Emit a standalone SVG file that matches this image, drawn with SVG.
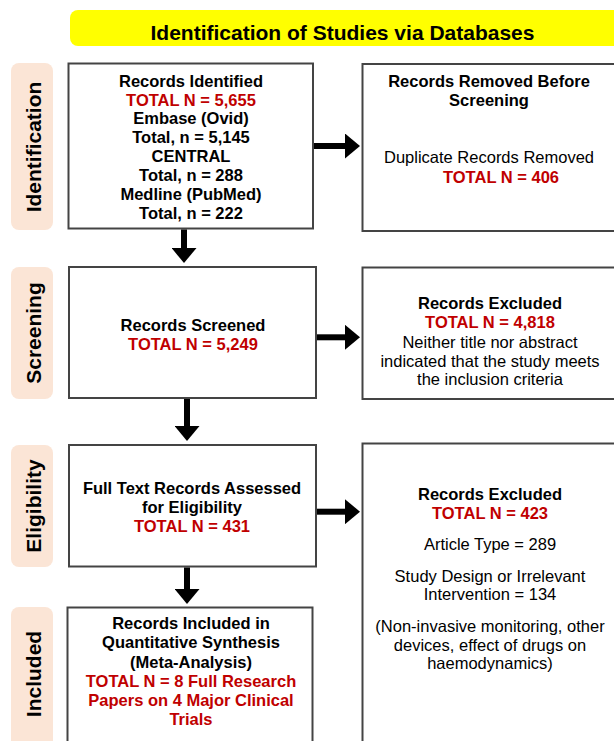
<svg xmlns="http://www.w3.org/2000/svg" width="614" height="741" viewBox="0 0 614 741">
<defs>
<style>
.box{fill:#fff;stroke:#444;stroke-width:2}
.lab{fill:#FBE5D6}
.t{font-family:"Liberation Sans",Arial,sans-serif;font-size:16.5px;text-anchor:middle;fill:#000}
.b{font-weight:bold}
.r{fill:#C00000;font-weight:bold}
.lt{font-family:"Liberation Sans",Arial,sans-serif;font-size:21px;font-weight:bold;text-anchor:middle;fill:#000}
.conn{stroke:#000;stroke-width:6;fill:none;marker-end:url(#ah)}
</style>
<marker id="ah" markerUnits="userSpaceOnUse" markerWidth="15" markerHeight="25" refX="0" refY="12.5" orient="auto" viewBox="0 0 15 25">
<path d="M0,0 L15,12.5 L0,25 z" fill="#000"/>
</marker>
</defs>
<rect width="614" height="741" fill="#fff"/>

<g id="banner">
<rect x="70" y="10" width="560" height="36" rx="8" fill="#FFFF00"/>
<text class="lt" x="342.5" y="39.5">Identification of Studies via Databases</text>
</g>

<g id="label-identification">
<rect class="lab" x="11" y="63" width="42" height="167" rx="8"/>
<text class="lt" transform="translate(40.5,147) rotate(-90)" x="0" y="0">Identification</text>
</g>
<g id="label-screening">
<rect class="lab" x="11" y="267" width="42" height="132" rx="8"/>
<text class="lt" transform="translate(40.5,333) rotate(-90)" x="0" y="0">Screening</text>
</g>
<g id="label-eligibility">
<rect class="lab" x="11" y="445" width="42" height="122" rx="8"/>
<text class="lt" transform="translate(40.5,506) rotate(-90)" x="0" y="0">Eligibility</text>
</g>
<g id="label-included">
<rect class="lab" x="11" y="607" width="42" height="145" rx="8"/>
<text class="lt" transform="translate(40.5,674) rotate(-90)" x="0" y="0">Included</text>
</g>

<g id="records-identified">
<rect class="box" x="68.5" y="63.5" width="244.5" height="165"/>
<text class="t b" x="191" y="86.5">Records Identified</text>
<text class="t r" x="191" y="105.5">TOTAL N = 5,655</text>
<text class="t b" x="191" y="124.4">Embase (Ovid)</text>
<text class="t b" x="191" y="143.4">Total, n = 5,145</text>
<text class="t b" x="191" y="162.3">CENTRAL</text>
<text class="t b" x="191" y="181.3">Total, n = 288</text>
<text class="t b" x="191" y="200.2">Medline (PubMed)</text>
<text class="t b" x="191" y="219.2">Total, n = 222</text>
</g>

<g id="records-removed">
<rect class="box" x="362.5" y="64" width="260" height="167"/>
<text class="t b" x="489" y="86.6">Records Removed Before</text>
<text class="t b" x="489" y="105.9">Screening</text>
<text class="t" x="489" y="162.6">Duplicate Records Removed</text>
<text class="t r" x="501" y="182.6">TOTAL N = 406</text>
</g>

<g id="records-screened">
<rect class="box" x="69" y="267" width="247" height="131"/>
<text class="t b" x="193" y="331">Records Screened</text>
<text class="t r" x="193" y="350.2">TOTAL N = 5,249</text>
</g>

<g id="records-excluded-1">
<rect class="box" x="362.5" y="267.5" width="260" height="131.5"/>
<text class="t b" x="490" y="309.2">Records Excluded</text>
<text class="t r" x="490" y="328.4">TOTAL N = 4,818</text>
<text class="t" x="490" y="347.6">Neither title nor abstract</text>
<text class="t" x="490" y="366.6">indicated that the study meets</text>
<text class="t" x="490" y="385.4">the inclusion criteria</text>
</g>

<g id="full-text-assessed">
<rect class="box" x="69" y="445" width="247" height="121.5"/>
<text class="t b" x="192" y="494.2">Full Text Records Assessed</text>
<text class="t b" x="192" y="513.2">for Eligibility</text>
<text class="t r" x="192" y="531.8">TOTAL N = 431</text>
</g>

<g id="records-excluded-2">
<rect class="box" x="362.5" y="443.5" width="260" height="310"/>
<text class="t b" x="490" y="499.9">Records Excluded</text>
<text class="t r" x="490" y="518.6">TOTAL N = 423</text>
<text class="t" x="490" y="550.2">Article Type = 289</text>
<text class="t" x="490" y="581.6">Study Design or Irrelevant</text>
<text class="t" x="490" y="600.2">Intervention = 134</text>
<text class="t" x="490" y="631.9">(Non-invasive monitoring, other</text>
<text class="t" x="490" y="650.9">devices, effect of drugs on</text>
<text class="t" x="490" y="669.2">haemodynamics)</text>
</g>

<g id="records-included">
<rect class="box" x="67.5" y="607.5" width="245" height="150"/>
<text class="t b" x="191" y="629.2">Records Included in</text>
<text class="t b" x="191" y="648.2">Quantitative Synthesis</text>
<text class="t b" x="191" y="667.6">(Meta-Analysis)</text>
<text class="t r" x="191" y="686.6">TOTAL N = 8 Full Research</text>
<text class="t r" x="191" y="705.9">Papers on 4 Major Clinical</text>
<text class="t r" x="191" y="724.6">Trials</text>
</g>

<g id="connectors">
<line class="conn" x1="314" y1="146" x2="345" y2="146"/>
<line class="conn" x1="317" y1="337.3" x2="345" y2="337.3"/>
<line class="conn" x1="317" y1="511.7" x2="345" y2="511.7"/>
<line class="conn" x1="184" y1="229.5" x2="184" y2="248"/>
<line class="conn" x1="187" y1="399" x2="187" y2="426"/>
<line class="conn" x1="187" y1="567.5" x2="187" y2="589"/>
</g>
</svg>
